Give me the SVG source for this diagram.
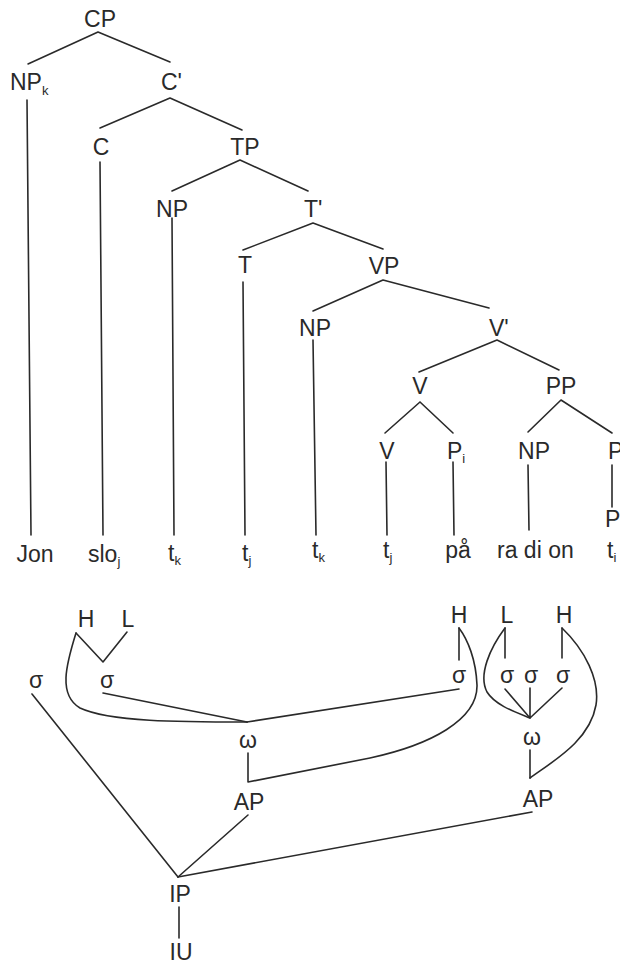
<svg xmlns="http://www.w3.org/2000/svg" width="620" height="965" viewBox="0 0 620 965">
  <style>
    text { font-family: "Liberation Sans", Arial, sans-serif; font-size: 23px; fill: #2a2a2a; }
    .m { text-anchor: middle; }
    .sub { font-size: 13px; fill: #2a2a2a; }
    .edge { fill: none; stroke: #2a2a2a; stroke-width: 1.6; stroke-linecap: round; stroke-linejoin: round; }
  </style>
  <rect width="620" height="965" fill="#ffffff"/>

  <!-- syntactic tree and prosodic structure connectors -->
  <g id="connectors" class="edge">
    <!-- syntax -->
    <path d="M98,32 L28,64 M98,32 L170,62"/>
    <path d="M27,100 L31,535"/>
    <path d="M170,98 L100,128 M170,98 L242,130"/>
    <path d="M100,162 L103,535"/>
    <path d="M240,160 L172,191 M240,160 L308,191"/>
    <path d="M172,218 L174,535"/>
    <path d="M313,223 L243,250 M313,223 L383,249"/>
    <path d="M243,282 L245,535"/>
    <path d="M383,280 L313,311 M383,280 L489,308"/>
    <path d="M313,340 L316,535"/>
    <path d="M497,340 L419,372 M497,340 L559,370"/>
    <path d="M420,402 L385,433 M420,402 L453,433"/>
    <path d="M561,400 L528,432 M561,400 L612,433"/>
    <path d="M386,462 L387,535 M453,462 L454,535 M528,465 L529,530"/>
    <path d="M612,465 L612,507"/>

    <!-- prosody: first phrase -->
    <path d="M76,633 L103,662 L127,632"/>
    <path d="M76,633 C66,665 58,695 80,708 C110,722 180,722 247,722"/>
    <path d="M103,693 L247,722"/>
    <path d="M459,689 L247,722"/>
    <path d="M459,628 L459,660"/>
    <path d="M248,753 L248,782 L370,758 C430,745 478,720 477,685 C476,660 468,640 459,628"/>
    <path d="M32,694 L178,877"/>
    <path d="M248,815 L178,877"/>

    <!-- prosody: second phrase -->
    <path d="M505,628 L505,658 M562,628 L562,658"/>
    <path d="M505,628 C490,648 478,675 487,692 C495,705 515,712 530,718"/>
    <path d="M505,689 L530,718 M530,688 L530,718 M562,688 L530,718"/>
    <path d="M530,750 L530,778"/>
    <path d="M562,628 C585,650 600,680 596,705 C590,740 555,760 530,778"/>
    <path d="M532,812 L178,877"/>
    <path d="M179,907 L179,938"/>
  </g>

  <!-- syntactic nodes -->
  <g id="cp"><text class="m" x="100" y="27">CP</text></g>
  <g id="np-k"><text x="10" y="90">NP<tspan class="sub" dy="5">k</tspan></text></g>
  <g id="c-bar"><text x="161" y="90">C'</text></g>
  <g id="c"><text class="m" x="101" y="155">C</text></g>
  <g id="tp"><text class="m" x="245" y="155">TP</text></g>
  <g id="np-spec-tp"><text class="m" x="172" y="217">NP</text></g>
  <g id="t-bar"><text x="304" y="217">T'</text></g>
  <g id="t"><text class="m" x="245" y="273">T</text></g>
  <g id="vp"><text class="m" x="384" y="274">VP</text></g>
  <g id="np-spec-vp"><text class="m" x="315" y="336">NP</text></g>
  <g id="v-bar"><text x="489" y="336">V'</text></g>
  <g id="v-complex"><text class="m" x="420" y="394">V</text></g>
  <g id="pp"><text class="m" x="561" y="394">PP</text></g>
  <g id="v"><text class="m" x="387" y="459">V</text></g>
  <g id="p-i"><text x="447" y="459">P<tspan class="sub" dy="4">i</tspan></text></g>
  <g id="np-obj"><text class="m" x="534" y="459">NP</text></g>
  <g id="p-bar"><text x="608" y="459">P'</text></g>
  <g id="p"><text x="605" y="527">P</text></g>

  <!-- terminals -->
  <g id="w-jon"><text class="m" x="35" y="562">Jon</text></g>
  <g id="w-slo"><text x="88" y="562">slo<tspan class="sub" dy="4">j</tspan></text></g>
  <g id="w-tk1"><text x="168" y="561">t<tspan class="sub" dy="4">k</tspan></text></g>
  <g id="w-tj1"><text x="242" y="561">t<tspan class="sub" dy="4">j</tspan></text></g>
  <g id="w-tk2"><text x="312" y="558">t<tspan class="sub" dy="4">k</tspan></text></g>
  <g id="w-tj2"><text x="383" y="558">t<tspan class="sub" dy="4">j</tspan></text></g>
  <g id="w-pa"><text class="m" x="458" y="558">på</text></g>
  <g id="w-radion"><text x="497" y="558">ra di on</text></g>
  <g id="w-ti"><text x="607" y="558">t<tspan class="sub" dy="4">i</tspan></text></g>

  <!-- prosodic nodes: first phrase -->
  <g id="tone-h1"><text class="m" x="86" y="627">H</text></g>
  <g id="tone-l1"><text class="m" x="128" y="627">L</text></g>
  <g id="syl-1"><text class="m" x="36" y="688">σ</text></g>
  <g id="syl-2"><text class="m" x="107" y="688">σ</text></g>
  <g id="tone-h2"><text class="m" x="459" y="623">H</text></g>
  <g id="syl-3"><text class="m" x="459" y="683">σ</text></g>
  <g id="word-1"><text class="m" x="248" y="748">ω</text></g>
  <g id="ap-1"><text class="m" x="249" y="810">AP</text></g>

  <!-- prosodic nodes: second phrase -->
  <g id="tone-l2"><text class="m" x="507" y="623">L</text></g>
  <g id="tone-h3"><text class="m" x="564" y="623">H</text></g>
  <g id="syl-4"><text class="m" x="507" y="683">σ</text></g>
  <g id="syl-5"><text class="m" x="531" y="683">σ</text></g>
  <g id="syl-6"><text class="m" x="563" y="683">σ</text></g>
  <g id="word-2"><text class="m" x="532" y="745">ω</text></g>
  <g id="ap-2"><text class="m" x="538" y="807">AP</text></g>

  <!-- intonation -->
  <g id="ip"><text class="m" x="180" y="902">IP</text></g>
  <g id="iu"><text class="m" x="181" y="960">IU</text></g>
</svg>
